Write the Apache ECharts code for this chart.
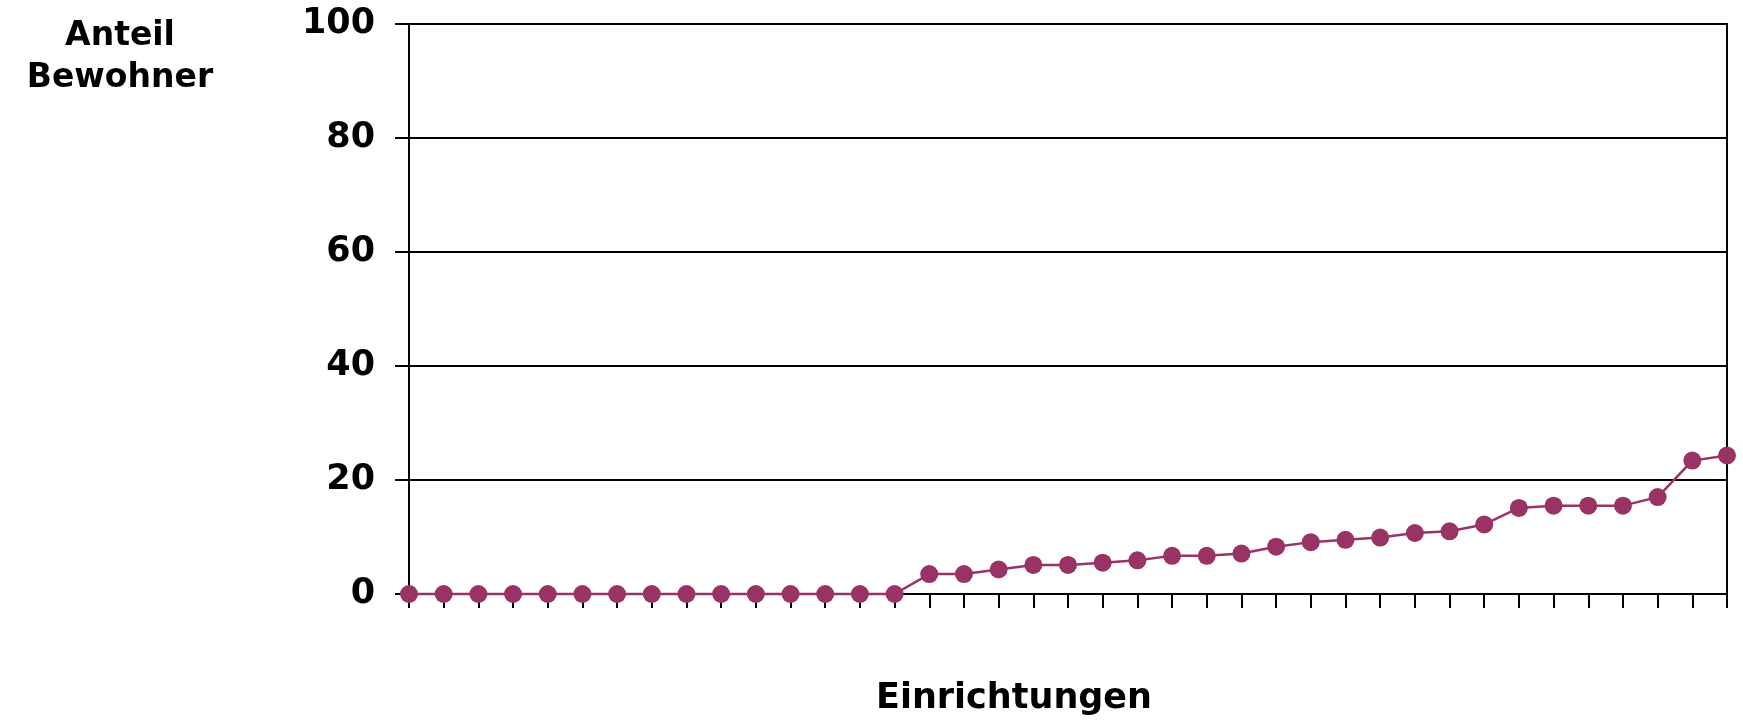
<!DOCTYPE html>
<html>
<head>
<meta charset="utf-8">
<script src="https://cdn.jsdelivr.net/npm/echarts@6/dist/echarts.min.js"></script>
<style>
  html, body { margin: 0; padding: 0; background: #fff; }
  #chart { width: 1743px; height: 722px; }
</style>
</head>
<body>
<div id="chart"></div>
<script>
// Einrichtungen, sorted by share of residents (Anteil Bewohner, %)
const categories = Array.from({ length: 39 }, (_, i) => String(i + 1));
const anteilBewohner = [
  0, 0, 0, 0, 0, 0, 0, 0, 0, 0, 0, 0, 0, 0, 0,
  3.5, 3.5, 4.3, 5.1, 5.1, 5.5, 5.9, 6.7, 6.7, 7.1, 8.3,
  9.1, 9.5, 9.9, 10.7, 11.0, 12.2, 15.1, 15.5, 15.5, 15.5,
  17.0, 23.4, 24.3
];
const yTicks = [0, 20, 40, 60, 80, 100];

const FONT = 'DejaVu Sans';
const PLUM = '#993366';

const chart = echarts.init(document.getElementById('chart'), null, { renderer: 'canvas' });

chart.setOption({
  backgroundColor: '#ffffff',
  animation: false,
  title: [
    {
      text: 'Anteil\nBewohner',
      left: 120,
      top: 15,
      padding: 0,
      textAlign: 'center',
      textStyle: { fontFamily: FONT, fontWeight: 'bold', fontSize: 33, lineHeight: 42, color: '#000' }
    },
    {
      text: 'Einrichtungen',
      left: 1014,
      top: 681,
      padding: 0,
      textAlign: 'center',
      textStyle: { fontFamily: FONT, fontWeight: 'bold', fontSize: 35, lineHeight: 36, color: '#000' }
    }
  ],
  grid: {
    left: 409,
    right: 16,
    top: 24,
    bottom: 128,
    show: true,
    borderColor: '#000',
    borderWidth: 2,
    backgroundColor: 'transparent'
  },
  xAxis: {
    type: 'category',
    data: categories,
    boundaryGap: false,
    axisLine: { show: true, onZero: false, lineStyle: { color: '#000', width: 2 } },
    axisTick: { show: true, interval: 0, inside: false, length: 14, lineStyle: { color: '#000', width: 2 } },
    axisLabel: { show: false },
    splitLine: { show: false }
  },
  yAxis: {
    type: 'value',
    min: yTicks[0],
    max: yTicks[yTicks.length - 1],
    interval: 20,
    axisLine: { show: true, lineStyle: { color: '#000', width: 2 } },
    axisTick: { show: true, inside: false, length: 14, lineStyle: { color: '#000', width: 2 } },
    axisLabel: {
      show: true,
      margin: 34,
      fontFamily: FONT,
      fontWeight: 'bold',
      fontSize: 35,
      color: '#000',
      padding: [4, 0, 0, 0]
    },
    splitLine: { show: true, lineStyle: { color: '#000', width: 2 } }
  },
  series: [
    {
      type: 'line',
      data: anteilBewohner,
      symbol: 'circle',
      symbolSize: 18,
      clip: false,
      itemStyle: { color: PLUM },
      lineStyle: { color: PLUM, width: 2.5 },
      z: 5
    }
  ]
});
</script>
</body>
</html>
